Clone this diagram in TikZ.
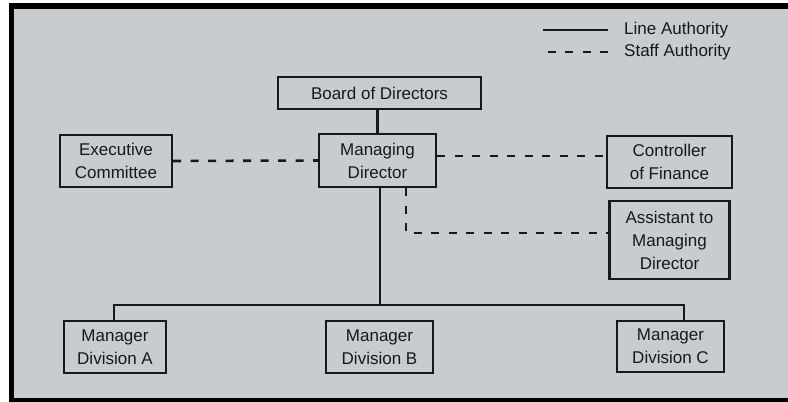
\documentclass[tikz,border=0pt]{standalone}
\usepackage{fontspec}
\setmainfont{Liberation Sans}
\usepackage{tikz}
\definecolor{paper}{RGB}{200,204,207}
\definecolor{ink}{RGB}{24,24,24}
\tikzset{basic/.style={draw=ink,line width=2.4pt,text=ink,align=center,
                       inner sep=0pt,font=\fontsize{17}{23}\selectfont}}
\tikzset{post/.style={basic,rectangle}}
\tikzset{line/.style={draw=ink,line width=2.2pt}}
\tikzset{staff/.style={line,line width=2.6pt,dash pattern=on 8pt off 9.5pt}}
\tikzset{key/.style={text=ink,inner sep=0pt,anchor=west,font=\fontsize{17}{23}\selectfont}}

\begin{document}
\begin{tikzpicture}[x=1pt,y=-1pt]
    % photo frame
    \useasboundingbox (0,0) rectangle (788,402);
    \fill[white] (0,0) rectangle (788,402);
    \fill[black] (9,3) rectangle (788,402);
    \fill[paper] (14,9) rectangle (788,398);

    \node[post,minimum width=203pt,minimum height=32pt] (board) at (379.5,93) {Board of Directors};
    \node[post,minimum width=117pt,minimum height=53pt] (md) at (377.5,160.5) {Managing\\Director};
    \node[post,minimum width=112pt,minimum height=52pt] (exec) at (116,161) {Executive\\Committee};
    \node[post,minimum width=125pt,minimum height=52pt] (ctrl) at (669.5,162) {Controller\\of Finance};
    \node[post,minimum width=120pt,minimum height=78pt] (asst) at (669.5,240) {Assistant to\\Managing\\Director};
    \node[post,minimum width=102pt,minimum height=52pt] (divA) at (115,347) {Manager\\Division A};
    \node[post,minimum width=107pt,minimum height=52pt] (divB) at (379.5,347) {Manager\\Division B};
    \node[post,minimum width=107pt,minimum height=51pt] (divC) at (670.5,346.5) {Manager\\Division C};

    % line authority
    \coordinate (busA) at (114,305);
    \coordinate (busB) at (380,305);
    \coordinate (busC) at (684,305);
    \draw[line] (board.south -| md.north) -- (md.north);
    \draw[line] (md.south -| busB) -- (busB);
    \draw[line] (divA.north -| busA) -- (busA) -- (busC) -- (divC.north -| busC);

    % staff authority
    \coordinate (fin) at (436,156);
    \coordinate (bend) at (406,233);
    \draw[staff] (exec.east) -- (md.west);
    \draw[staff] (md.east |- fin) -- (ctrl.west |- fin);
    \draw[staff] (md.south -| bend) -- (bend) -- (asst.west |- bend);

    % legend
    \node[key] (lineKey) at (624,30) {Line Authority};
    \node[key] (staffKey) at (624,52) {Staff Authority};
    \draw[line] ([xshift=-16pt]lineKey.west) -- ++(-65,0);
    \draw[staff] ([xshift=-16pt]staffKey.west) -- ++(-65,0);
\end{tikzpicture}
\end{document}
